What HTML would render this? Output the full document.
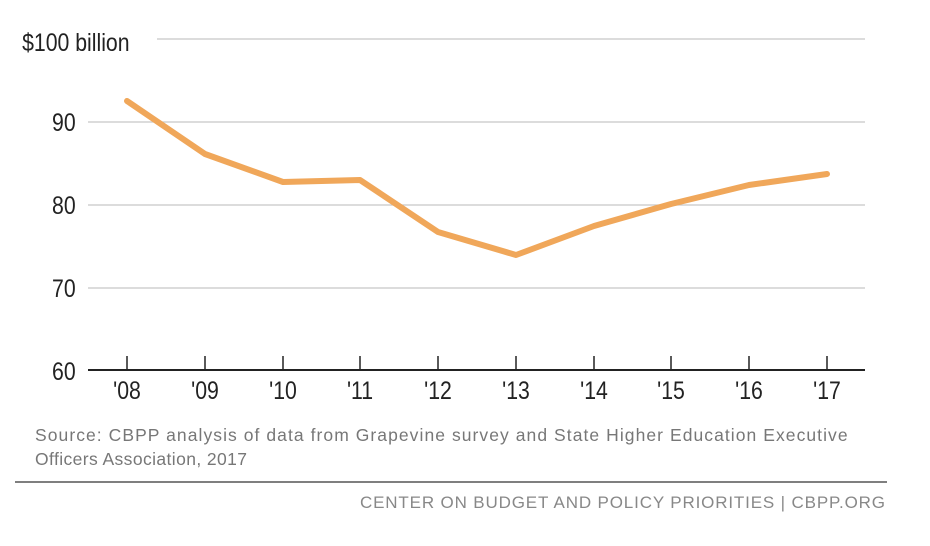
<!DOCTYPE html>
<html><head><style>
body{margin:0;background:#fff;width:930px;height:541px;overflow:hidden}
svg text{font-family:"Liberation Sans",sans-serif}
</style></head><body>
<svg width="930" height="541" viewBox="0 0 930 541">
<g stroke="#c8c8c8" stroke-width="1.3">
<line x1="157" y1="39" x2="865" y2="39"/>
<line x1="88" y1="122" x2="865" y2="122"/>
<line x1="88" y1="205" x2="865" y2="205"/>
<line x1="88" y1="288" x2="865" y2="288"/>
</g>
<line x1="88" y1="370" x2="865" y2="370" stroke="#222" stroke-width="2"/>
<g stroke="#222" stroke-width="1.5">
<line x1="127" y1="356" x2="127" y2="370"/><line x1="205" y1="356" x2="205" y2="370"/>
<line x1="283" y1="356" x2="283" y2="370"/><line x1="360" y1="356" x2="360" y2="370"/>
<line x1="438" y1="356" x2="438" y2="370"/><line x1="516" y1="356" x2="516" y2="370"/>
<line x1="594" y1="356" x2="594" y2="370"/><line x1="671" y1="356" x2="671" y2="370"/>
<line x1="749" y1="356" x2="749" y2="370"/><line x1="827" y1="356" x2="827" y2="370"/>
</g>
<g font-size="25" fill="#222" transform="scale(0.85,1)">
<text x="26" y="51">$100 billion</text>
<text x="89" y="131" text-anchor="end">90</text>
<text x="89" y="214" text-anchor="end">80</text>
<text x="89" y="297" text-anchor="end">70</text>
<text x="89" y="380" text-anchor="end">60</text>
</g>
<g font-size="25" fill="#222" text-anchor="middle">
<text transform="translate(127,399) scale(0.85,1)">'08</text>
<text transform="translate(205,399) scale(0.85,1)">'09</text>
<text transform="translate(283,399) scale(0.85,1)">'10</text>
<text transform="translate(360,399) scale(0.85,1)">'11</text>
<text transform="translate(438,399) scale(0.85,1)">'12</text>
<text transform="translate(516,399) scale(0.85,1)">'13</text>
<text transform="translate(594,399) scale(0.85,1)">'14</text>
<text transform="translate(671,399) scale(0.85,1)">'15</text>
<text transform="translate(749,399) scale(0.85,1)">'16</text>
<text transform="translate(827,399) scale(0.85,1)">'17</text>
</g>
<polyline fill="none" stroke="#f0a75a" stroke-width="6" stroke-linejoin="round" stroke-linecap="round"
points="127,101 205,154 283,182 360,180 438,232 516,255 594,226 671,204 749,185 827,174"/>
<g font-size="17.5" fill="#777" letter-spacing="0.4">
<text x="35" y="441" textLength="813" lengthAdjust="spacing">Source: CBPP analysis of data from Grapevine survey and State Higher Education Executive</text>
<text x="35" y="465">Officers Association, 2017</text>
</g>
<line x1="15" y1="482" x2="887" y2="482" stroke="#555" stroke-width="1.5"/>
<text x="360" y="508" font-size="17" fill="#888" textLength="525" lengthAdjust="spacing">CENTER ON BUDGET AND POLICY PRIORITIES | CBPP.ORG</text>
</svg>
</body></html>
